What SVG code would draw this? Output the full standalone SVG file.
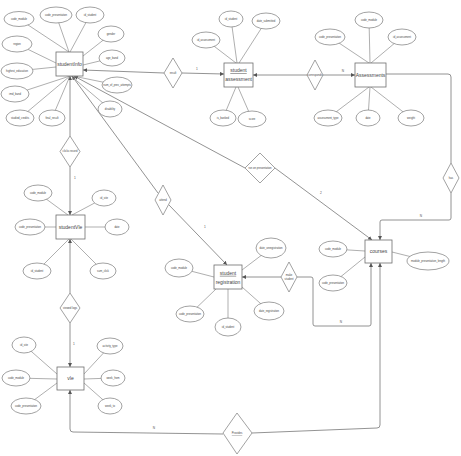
<svg xmlns="http://www.w3.org/2000/svg" width="461" height="456" viewBox="0 0 461 456">
<defs>
<marker id="arr" viewBox="0 0 6 6" refX="6" refY="3" markerWidth="4" markerHeight="4" markerUnits="userSpaceOnUse" orient="auto-start-reverse">
<path d="M0,0 L6,3 L0,6 z" fill="#555"/>
</marker>
<style>
.al{stroke:#8c8c8c;stroke-width:0.7;fill:none}
.cn{stroke:#777;stroke-width:0.8;fill:none}
.at{fill:#fff;stroke:#7a7a7a;stroke-width:0.7}
.en{fill:#fff;stroke:#6e6e6e;stroke-width:0.8}
.rl{fill:#fff;stroke:#7a7a7a;stroke-width:0.7}
.t{font-family:"Liberation Sans",Arial,sans-serif;font-size:2.7px;fill:#444;text-anchor:middle;dominant-baseline:middle}
.te{font-family:"Liberation Sans Narrow","Liberation Sans",Arial,sans-serif;font-size:5px;fill:#444;text-anchor:middle;dominant-baseline:middle}
.tc{font-family:"Liberation Sans",Arial,sans-serif;font-size:3.2px;fill:#555;text-anchor:middle;dominant-baseline:middle}
</style>
</defs>
<rect width="461" height="456" fill="#fff"/>

<g id="connectors">
<!-- result -->
<line class="cn" x1="164" y1="73" x2="83" y2="70" marker-end="url(#arr)"/>
<line class="cn" x1="182" y1="73" x2="224" y2="74" marker-end="url(#arr)"/>
<!-- corresponds -->
<line class="cn" x1="307" y1="75" x2="253" y2="75" marker-end="url(#arr)"/>
<line class="cn" x1="323" y1="75" x2="355" y2="75" marker-end="url(#arr)"/>
<!-- has -->
<path class="cn" d="M386,74 L448,74 Q451,74 451,77 L451,163"/>
<path class="cn" d="M451,193 L451,218 Q451,220 449,220 L382,220 Q380,220 380,222 L380,240" marker-end="url(#arr)"/>
<!-- run on presentation -->
<line class="cn" x1="245" y1="168" x2="74" y2="76" marker-end="url(#arr)"/>
<line class="cn" x1="275" y1="168" x2="372" y2="240" marker-end="url(#arr)"/>
<!-- clicks record -->
<line class="cn" x1="70" y1="136" x2="70" y2="76" marker-end="url(#arr)"/>
<line class="cn" x1="70" y1="167" x2="70" y2="215" marker-end="url(#arr)"/>
<!-- viewed logs -->
<line class="cn" x1="70" y1="293" x2="70" y2="239" marker-end="url(#arr)"/>
<line class="cn" x1="70" y1="323" x2="70" y2="367" marker-end="url(#arr)"/>
<!-- attend -->
<line class="cn" x1="158" y1="193" x2="72" y2="76" marker-end="url(#arr)"/>
<line class="cn" x1="169" y1="205" x2="227" y2="265" marker-end="url(#arr)"/>
<!-- make student -->
<line class="cn" x1="281" y1="277" x2="242" y2="277" marker-end="url(#arr)"/>
<path class="cn" d="M297,277 L311,277 Q313,277 313,279 L313,324 Q313,326 315,326 L369,326 Q371,326 371,324 L371,263" marker-end="url(#arr)"/>
<!-- provides -->
<path class="cn" d="M223,434 L73,432 Q70,432 70,429 L70,390" marker-end="url(#arr)"/>
<path class="cn" d="M252,433 L377,428 Q380,428 380,425 L380,263" marker-end="url(#arr)"/>
<!-- cardinalities -->
<text class="tc" x="197" y="69">1</text>
<text class="tc" x="343" y="71">N</text>
<text class="tc" x="421" y="216">N</text>
<text class="tc" x="321" y="193">2</text>
<text class="tc" x="75" y="178">1</text>
<text class="tc" x="74" y="344">1</text>
<text class="tc" x="205" y="227">1</text>
<text class="tc" x="341" y="322">N</text>
<text class="tc" x="154" y="428">N</text>
</g>

<g id="studentInfo">
<line class="al" x1="19" y1="19" x2="69" y2="52"/>
<line class="al" x1="56" y1="15" x2="69" y2="52"/>
<line class="al" x1="90" y1="15" x2="70" y2="52"/>
<line class="al" x1="111" y1="34" x2="83" y2="56"/>
<line class="al" x1="17" y1="44" x2="56" y2="63"/>
<line class="al" x1="112" y1="58" x2="83" y2="65"/>
<line class="al" x1="17" y1="71" x2="56" y2="67"/>
<line class="al" x1="117" y1="85" x2="73" y2="76"/>
<line class="al" x1="15" y1="94" x2="70" y2="76"/>
<line class="al" x1="110" y1="109" x2="71" y2="76"/>
<line class="al" x1="20" y1="118" x2="70" y2="76"/>
<line class="al" x1="52" y1="118" x2="70" y2="76"/>
<ellipse class="at" cx="19" cy="19" rx="15" ry="7.5"/><text class="t" x="19" y="19">code_module</text>
<ellipse class="at" cx="56" cy="15" rx="16" ry="8"/><text class="t" x="56" y="15">code_presentation</text>
<ellipse class="at" cx="90" cy="15" rx="14" ry="8"/><text class="t" x="90" y="15">id_student</text>
<ellipse class="at" cx="111" cy="34" rx="13" ry="8"/><text class="t" x="111" y="34">gender</text>
<ellipse class="at" cx="17" cy="44" rx="15" ry="8"/><text class="t" x="17" y="44">region</text>
<ellipse class="at" cx="112" cy="58" rx="13" ry="8"/><text class="t" x="112" y="58">age_band</text>
<ellipse class="at" cx="17" cy="71" rx="16" ry="8"/><text class="t" x="17" y="71">highest_education</text>
<ellipse class="at" cx="117" cy="85" rx="15" ry="8"/><text class="t" x="117" y="85">num_of_prev_attempts</text>
<ellipse class="at" cx="15" cy="94" rx="14" ry="8"/><text class="t" x="15" y="94">imd_band</text>
<ellipse class="at" cx="110" cy="109" rx="12" ry="8"/><text class="t" x="110" y="109">disability</text>
<ellipse class="at" cx="20" cy="118" rx="14" ry="8"/><text class="t" x="20" y="118">studied_credits</text>
<ellipse class="at" cx="52" cy="118" rx="13" ry="8"/><text class="t" x="52" y="118">final_result</text>
<rect class="en" x="56" y="52" width="27" height="24"/>
<text class="te" x="69.5" y="64.5">studentInfo</text>
</g>

<g id="studentAssessment">
<line class="al" x1="206" y1="40" x2="236" y2="63"/>
<line class="al" x1="231" y1="19" x2="237" y2="63"/>
<line class="al" x1="266" y1="21" x2="239" y2="63"/>
<line class="al" x1="223" y1="118" x2="236" y2="87"/>
<line class="al" x1="252" y1="119" x2="238" y2="87"/>
<ellipse class="at" cx="206" cy="40" rx="14" ry="8"/><text class="t" x="206" y="40">id_assessment</text>
<ellipse class="at" cx="231" cy="19" rx="12" ry="8"/><text class="t" x="231" y="19">id_student</text>
<ellipse class="at" cx="266" cy="21" rx="14" ry="8"/><text class="t" x="266" y="21">date_submitted</text>
<ellipse class="at" cx="223" cy="118" rx="13" ry="8"/><text class="t" x="223" y="118">is_banked</text>
<ellipse class="at" cx="252" cy="119" rx="14" ry="8"/><text class="t" x="252" y="119">score</text>
<rect class="en" x="224" y="63" width="29" height="24"/>
<text class="te" x="238.5" y="71" text-decoration="underline" font-size="4.2">student</text>
<text class="te" x="238.5" y="80" font-size="4.2">assessment</text>
</g>

<g id="result">
<polygon class="rl" points="173,58 182,73 173,88 164,73"/>
<text class="t" x="173" y="73">result</text>
</g>

<g id="corresponds">
<polygon class="rl" points="315,60 323,75 315,90 307,75"/>
<text class="t" x="315" y="75" font-size="2.4">corresponds</text>
</g>

<g id="Assessments">
<line class="al" x1="369" y1="20" x2="370" y2="63"/>
<line class="al" x1="330" y1="37" x2="369" y2="63"/>
<line class="al" x1="402" y1="37" x2="371" y2="63"/>
<line class="al" x1="328" y1="118" x2="369" y2="87"/>
<line class="al" x1="368" y1="118" x2="370" y2="87"/>
<line class="al" x1="411" y1="118" x2="371" y2="87"/>
<ellipse class="at" cx="369" cy="20" rx="14" ry="8"/><text class="t" x="369" y="20">code_module</text>
<ellipse class="at" cx="330" cy="37" rx="15" ry="8"/><text class="t" x="330" y="37">code_presentation</text>
<ellipse class="at" cx="402" cy="37" rx="14" ry="8"/><text class="t" x="402" y="37">id_assessment</text>
<ellipse class="at" cx="328" cy="118" rx="14" ry="8"/><text class="t" x="328" y="118">assessment_type</text>
<ellipse class="at" cx="368" cy="118" rx="12" ry="8"/><text class="t" x="368" y="118">date</text>
<ellipse class="at" cx="411" cy="118" rx="13" ry="8"/><text class="t" x="411" y="118">weight</text>
<rect class="en" x="355" y="63" width="31" height="24"/>
<text class="te" x="370.5" y="75.5">Assessments</text>
</g>

<g id="has">
<polygon class="rl" points="451,163 459,178 451,193 443,178"/>
<text class="t" x="451" y="178">has</text>
</g>

<g id="courses">
<line class="al" x1="333" y1="249" x2="365" y2="251"/>
<line class="al" x1="333" y1="283" x2="365" y2="257"/>
<line class="al" x1="428" y1="261" x2="392" y2="252"/>
<ellipse class="at" cx="333" cy="249" rx="14" ry="8"/><text class="t" x="333" y="249">code_module</text>
<ellipse class="at" cx="333" cy="283" rx="14" ry="8"/><text class="t" x="333" y="283">code_presentation</text>
<ellipse class="at" cx="428" cy="261" rx="21" ry="9"/><text class="t" x="428" y="261">module_presentation_length</text>
<rect class="en" x="365" y="240" width="27" height="23"/>
<text class="te" x="378.5" y="252">courses</text>
</g>

<g id="runOnPresentation">
<polygon class="rl" points="260,153 275,168 260,183 245,168"/>
<text class="t" x="260" y="168" font-size="2.2">run on presentation</text>
</g>

<g id="clicksRecord">
<polygon class="rl" points="70,136 80,151.5 70,167 60,151.5"/>
<text class="t" x="70" y="151.5" font-size="2.4">clicks record</text>
</g>

<g id="studentVle">
<line class="al" x1="38" y1="193" x2="68" y2="215"/>
<line class="al" x1="104" y1="198" x2="72" y2="215"/>
<line class="al" x1="30" y1="227" x2="56" y2="227"/>
<line class="al" x1="117" y1="227" x2="85" y2="227"/>
<line class="al" x1="37" y1="271" x2="69" y2="239"/>
<line class="al" x1="103" y1="271" x2="71" y2="239"/>
<ellipse class="at" cx="38" cy="193" rx="14" ry="8"/><text class="t" x="38" y="193">code_module</text>
<ellipse class="at" cx="104" cy="198" rx="12" ry="8"/><text class="t" x="104" y="198">id_site</text>
<ellipse class="at" cx="30" cy="227" rx="15" ry="8"/><text class="t" x="30" y="227">code_presentation</text>
<ellipse class="at" cx="117" cy="227" rx="12" ry="8"/><text class="t" x="117" y="227">date</text>
<ellipse class="at" cx="37" cy="271" rx="14" ry="8"/><text class="t" x="37" y="271">id_student</text>
<ellipse class="at" cx="103" cy="271" rx="13" ry="8"/><text class="t" x="103" y="271">sum_click</text>
<rect class="en" x="56" y="215" width="29" height="24"/>
<text class="te" x="70.5" y="227.5">studentVle</text>
</g>

<g id="viewedLogs">
<polygon class="rl" points="70,293 80,308 70,323 60,308"/>
<text class="t" x="70" y="308" font-size="2.4">viewed logs</text>
</g>

<g id="vle">
<line class="al" x1="24" y1="345" x2="57" y2="374"/>
<line class="al" x1="16" y1="378" x2="57" y2="379"/>
<line class="al" x1="26" y1="406" x2="57" y2="383"/>
<line class="al" x1="110" y1="346" x2="84" y2="374"/>
<line class="al" x1="113" y1="378" x2="84" y2="379"/>
<line class="al" x1="110" y1="406" x2="84" y2="383"/>
<ellipse class="at" cx="24" cy="345" rx="12" ry="8"/><text class="t" x="24" y="345">id_site</text>
<ellipse class="at" cx="16" cy="378" rx="14" ry="8"/><text class="t" x="16" y="378">code_module</text>
<ellipse class="at" cx="26" cy="406" rx="15" ry="8"/><text class="t" x="26" y="406">code_presentation</text>
<ellipse class="at" cx="110" cy="346" rx="13" ry="8"/><text class="t" x="110" y="346">activity_type</text>
<ellipse class="at" cx="113" cy="378" rx="12" ry="8"/><text class="t" x="113" y="378">week_from</text>
<ellipse class="at" cx="110" cy="406" rx="12" ry="8"/><text class="t" x="110" y="406">week_to</text>
<rect class="en" x="57" y="367" width="27" height="23"/>
<text class="te" x="70.5" y="379">vle</text>
</g>

<g id="provides">
<polygon class="rl" points="237,413 252,433 237,454 223,433"/>
<text class="t" x="237" y="433.5" text-decoration="underline">Provides</text>
</g>

<g id="attend">
<polygon class="rl" points="163,185 171,200 163,215 155,200"/>
<text class="t" x="163" y="200">attend</text>
</g>

<g id="studentRegistration">
<line class="al" x1="179" y1="268" x2="214" y2="277"/>
<line class="al" x1="271" y1="248" x2="242" y2="270"/>
<line class="al" x1="190" y1="314" x2="216" y2="289"/>
<line class="al" x1="228" y1="327" x2="228" y2="289"/>
<line class="al" x1="269" y1="311" x2="242" y2="287"/>
<ellipse class="at" cx="179" cy="268" rx="14" ry="9"/><text class="t" x="179" y="268">code_module</text>
<ellipse class="at" cx="271" cy="248" rx="15" ry="10"/><text class="t" x="271" y="248">date_unregistration</text>
<ellipse class="at" cx="190" cy="314" rx="14" ry="8"/><text class="t" x="190" y="314">code_presentation</text>
<ellipse class="at" cx="228" cy="327" rx="13" ry="9"/><text class="t" x="228" y="327">id_student</text>
<ellipse class="at" cx="269" cy="311" rx="15" ry="9"/><text class="t" x="269" y="311">date_registration</text>
<rect class="en" x="214" y="265" width="28" height="24"/>
<text class="te" x="228" y="273.5" font-size="4.2" text-decoration="underline">student</text>
<text class="te" x="228" y="282.5" font-size="4.2">registration</text>
</g>

<g id="makeStudent">
<polygon class="rl" points="289,262 297,277 289,292 281,277"/>
<text class="t" x="289" y="275.5">make</text>
<text class="t" x="289" y="279">student</text>
</g>
</svg>
